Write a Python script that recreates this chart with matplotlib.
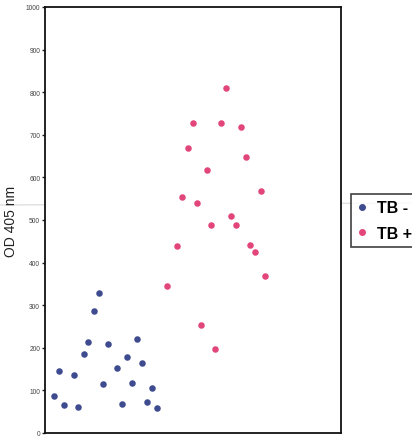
import matplotlib
matplotlib.use("Agg")
import matplotlib.pyplot as plt
from matplotlib.lines import Line2D

plt.rcParams['font.family'] = ['Liberation Sans', 'DejaVu Sans']

# Sample positions (arbitrary order along x) and OD readings
tb_neg_x = [1.7, 2.6, 3.5, 5.4, 6.1, 7.2, 8.0, 9.1, 10.0, 10.7,
            11.7, 13.3, 14.3, 15.2, 16.1, 17.0, 18.0, 18.9, 19.8, 20.7]
tb_neg_y = [88, 145, 66, 135, 60, 185, 213, 286, 329, 114,
            210, 153, 67, 178, 117, 221, 165, 73, 105, 59]
tb_pos_x = [22.6, 24.5, 25.4, 26.4, 27.4, 28.1, 28.8, 30.0, 30.7, 31.5,
            32.6, 33.6, 34.4, 35.4, 36.3, 37.2, 38.0, 38.9, 39.9, 40.7]
tb_pos_y = [344, 438, 555, 668, 728, 541, 254, 618, 488, 197,
            728, 810, 510, 488, 718, 649, 441, 424, 568, 368]
labels = ["TB -", "TB +"]
colors = ["#3f4b8f", "#e2457a"]
y_ticks = list(range(0, 1001, 100))

fig = plt.figure(figsize=(4.12, 4.39), dpi=100)
ax = fig.add_axes([45/412, 5/439, 296/412, 426/439])

ax.scatter(tb_neg_x, tb_neg_y, s=22, color=colors[0], zorder=3, linewidths=0)
ax.scatter(tb_pos_x, tb_pos_y, s=22, color=colors[1], zorder=3, linewidths=0)

ax.set_xlim(0, 54.8)
ax.set_ylim(0, 1000)
ax.set_xticks([])
ax.set_yticks(y_ticks)
ax.set_yticklabels([str(t) for t in y_ticks], fontsize=4.8, color="#444444")
ax.tick_params(axis='y', length=2.5, width=1, pad=1, direction='out', color='#222222')
for sp in ax.spines.values():
    sp.set_linewidth(1.3)
    sp.set_color('#111111')
ax.set_ylabel("OD 405 nm", fontsize=10, color="#222222")
ax.yaxis.set_label_coords(-0.09, 0.5)

# faint scan fold line
fig.add_artist(Line2D([0, 1], [1 - 206/439, 1 - 204/439], transform=fig.transFigure,
                      color="#d8d8d8", linewidth=0.8, zorder=0))

handles = [Line2D([], [], marker='o', linestyle='', markersize=4, color=c) for c in colors]
leg = fig.legend(handles, labels, loc='upper left',
                 bbox_to_anchor=(351/412, 1 - 195/439),
                 bbox_transform=fig.transFigure,
                 prop={'size': 11.5, 'weight': 'bold'},
                 frameon=True, fancybox=False, handlelength=0.6, handletextpad=0.6,
                 borderpad=0.4, labelspacing=0.65, borderaxespad=0)
leg.get_frame().set_edgecolor('#111111')
leg.get_frame().set_linewidth(1.2)

fig.savefig("out.png", dpi=100)
